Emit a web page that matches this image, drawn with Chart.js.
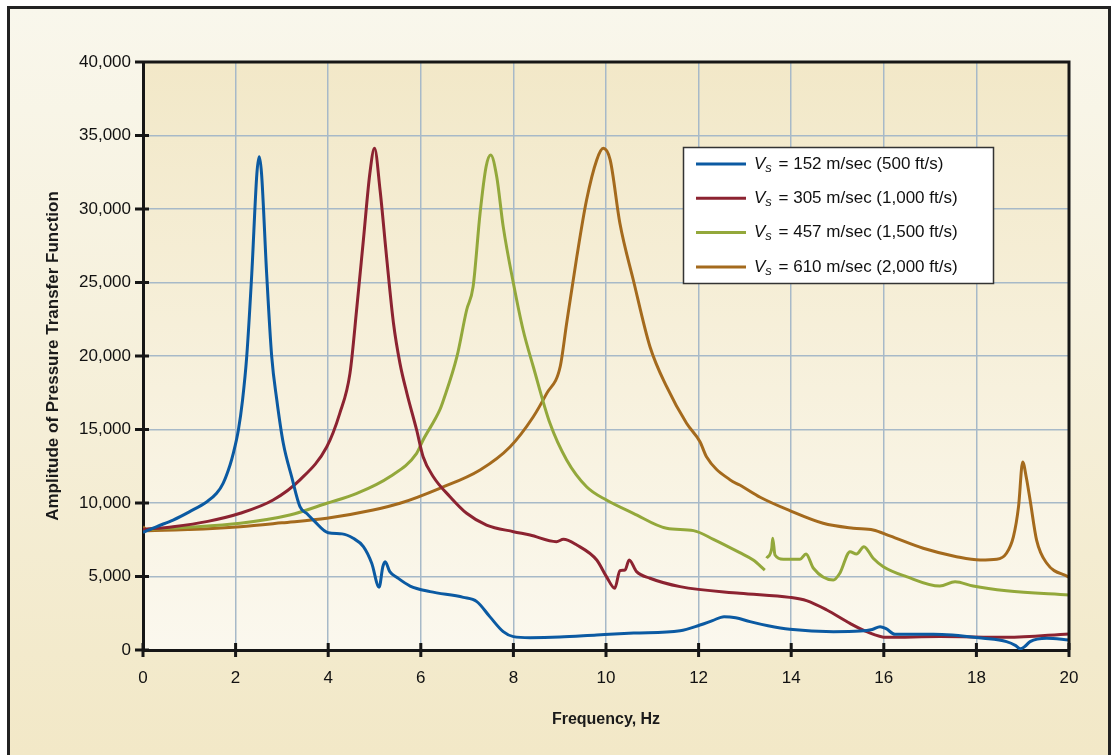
<!DOCTYPE html>
<html lang="en">
<head>
<meta charset="UTF-8">
<title>Amplitude of Pressure Transfer Function</title>
<script src="https://cdn.jsdelivr.net/npm/chart.js"></script>
<style>
    html, body { margin: 0; padding: 0; background: #ffffff; }
    #wrap { width: 1113px; height: 755px; }
</style>
</head>
<body>
<div id="wrap"><canvas id="ptfChart" width="1113" height="755"></canvas></div>
<script>
// Vs = 152 m/sec (500 ft/s)
const blueFreq = [0, 0.3, 0.65, 1.0, 1.38, 1.59, 1.73, 1.88, 1.95, 2.06, 2.15, 2.24, 2.35, 2.46, 2.51, 2.56, 2.67, 2.78, 2.89, 3.03, 3.21, 3.39, 3.55, 3.68, 4.0, 4.3, 4.54, 4.76, 4.94, 5.10, 5.18, 5.23, 5.33, 5.48, 5.77, 6.2, 6.92, 7.21, 7.49, 7.78, 8.0, 8.36, 9.0, 9.8, 10.6, 11.6, 12.03, 12.3, 12.55, 12.8, 13.11, 13.5, 13.97, 14.91, 15.49, 15.75, 15.92, 16.05, 16.24, 17.07, 18.15, 18.65, 18.85, 18.95, 19.05, 19.16, 19.52, 20];
const blueAmp = [8000, 8400, 8840, 9400, 10090, 10660, 11340, 12590, 13380, 14970, 17000, 19950, 25630, 32430, 33560, 32430, 25630, 19950, 17010, 14060, 11790, 9750, 9250, 8840, 7980, 7900, 7600, 7030, 5900, 4270, 5670, 6010, 5330, 4950, 4350, 3970, 3580, 3290, 2270, 1250, 910, 840, 880, 1020, 1150, 1310, 1700, 2000, 2270, 2200, 1930, 1650, 1410, 1250, 1290, 1400, 1590, 1450, 1070, 1070, 800, 570, 300, 80, 250, 570, 800, 680];

// Vs = 305 m/sec (1,000 ft/s)
const redFreq = [0, 0.65, 1.4, 2.1, 2.81, 3.39, 3.97, 4.25, 4.47, 4.62, 4.76, 4.9, 5.0, 5.12, 5.26, 5.41, 5.55, 5.7, 5.91, 6.05, 6.27, 6.63, 6.99, 7.42, 8.0, 8.36, 8.93, 9.08, 9.37, 9.8, 10.01, 10.19, 10.3, 10.41, 10.5, 10.66, 10.95, 11.6, 12.89, 13.97, 14.33, 14.77, 15.27, 15.63, 16.06, 17.21, 18.65, 20];
const redAmp = [8200, 8390, 8750, 9300, 10200, 11570, 13830, 16100, 18820, 23350, 27890, 32430, 34130, 31290, 26760, 22230, 19500, 17460, 14970, 13150, 11790, 10430, 9300, 8500, 8050, 7820, 7370, 7530, 7140, 6120, 4990, 4200, 5400, 5440, 6120, 5330, 4880, 4310, 3860, 3580, 3360, 2720, 1810, 1250, 860, 910, 860, 1090];

// Vs = 457 m/sec (1,500 ft/s)  (null = break in the trace)
const greenFreq = [0, 1.0, 2.1, 3.17, 3.97, 4.62, 5.33, 5.91, 6.05, 6.41, 6.49, 6.78, 6.99, 7.13, 7.28, 7.41, 7.51, 7.64, 7.78, 8.0, 8.21, 8.43, 8.79, 9.15, 9.58, 10.01, 10.59, 11.31, 11.89, 12.32, 12.89, 13.18, 13.43, 13.45, 13.47, 13.58, 13.6, 13.65, 13.83, 14.19, 14.32, 14.48, 14.91, 15.05, 15.27, 15.41, 15.57, 15.77, 15.99, 16.49, 17.21, 17.54, 17.93, 18.65, 20];
const greenAmp = [8200, 8350, 8620, 9180, 9980, 10660, 11790, 13380, 14290, 16330, 17010, 19950, 23130, 24720, 29710, 32880, 33680, 32200, 28800, 24950, 21770, 19270, 15420, 12930, 11110, 10200, 9300, 8280, 8120, 7530, 6620, 6120, 5440, null, 6240, 6920, 7600, 6460, 6170, 6170, 6530, 5560, 4760, 5220, 6690, 6530, 7030, 6240, 5670, 4990, 4350, 4650, 4350, 4030, 3740];

// Vs = 610 m/sec (2,000 ft/s)
const brownFreq = [0, 0.1, 1.0, 2.1, 3.0, 3.97, 4.97, 5.55, 6.41, 7.28, 7.93, 8.43, 8.72, 9.01, 9.15, 9.37, 9.58, 9.8, 9.94, 10.09, 10.3, 10.59, 10.95, 11.31, 11.74, 12.03, 12.17, 12.68, 12.89, 13.33, 13.97, 14.69, 15.34, 15.77, 16.13, 16.85, 17.57, 18.08, 18.44, 18.65, 18.8, 18.91, 19.0, 19.08, 19.16, 19.3, 19.52, 20];
const brownAmp = [8390, 8120, 8200, 8390, 8650, 8960, 9520, 9980, 11000, 12250, 13830, 15870, 17460, 19270, 22230, 26760, 30610, 33340, 34130, 33340, 29030, 25170, 20630, 17910, 15420, 14170, 13150, 11570, 11220, 10390, 9480, 8620, 8280, 8160, 7760, 6920, 6350, 6120, 6170, 6580, 7710, 9750, 12790, 11700, 10200, 7480, 5900, 4950];

const seriesLabels = ['Vs = 152 m/sec (500 ft/s)', 'Vs = 305 m/sec (1,000 ft/s)', 'Vs = 457 m/sec (1,500 ft/s)', 'Vs = 610 m/sec (2,000 ft/s)'];
const seriesColors = ['#0b5aa2', '#8c2331', '#93a83b', '#a46a1d'];
const yTickLabels = ['0', '5,000', '10,000', '15,000', '20,000', '25,000', '30,000', '35,000', '40,000'];

function toPoints(freq, amp) {
    return freq.map((f, i) => ({ x: f, y: amp[i] }));
}

const pairs = [[blueFreq, blueAmp], [redFreq, redAmp], [greenFreq, greenAmp], [brownFreq, brownAmp]];
const datasets = pairs.map((p, i) => ({
    label: seriesLabels[i],
    data: toPoints(p[0], p[1]),
    borderColor: seriesColors[i],
    backgroundColor: seriesColors[i],
    borderWidth: 3,
    pointRadius: 0,
    fill: false,
    spanGaps: false,
    cubicInterpolationMode: 'monotone'
}));

const FONT = '"Liberation Sans", Arial, sans-serif';

// frame + gradient backgrounds
const backdrop = {
    id: 'backdrop',
    beforeDraw(chart) {
        const ctx = chart.ctx, a = chart.chartArea;
        ctx.save();
        ctx.fillStyle = '#ffffff';
        ctx.fillRect(0, 0, chart.width, chart.height);
        let g = ctx.createLinearGradient(0, 8, 0, chart.height);
        g.addColorStop(0, '#f9f7ec');
        g.addColorStop(1, '#f2e8c7');
        ctx.fillStyle = g;
        ctx.fillRect(8.5, 7.5, 1101, chart.height);
        ctx.strokeStyle = '#222222';
        ctx.lineWidth = 3;
        ctx.strokeRect(8.5, 7.5, 1101, chart.height + 10);
        g = ctx.createLinearGradient(0, a.top, 0, a.bottom);
        g.addColorStop(0, '#f2e8c8');
        g.addColorStop(1, '#fbf8ee');
        ctx.fillStyle = g;
        ctx.fillRect(a.left, a.top, a.right - a.left, a.bottom - a.top);
        ctx.restore();
    }
};

// top/right border, crossing tick marks, legend box
const overlay = {
    id: 'overlay',
    afterDraw(chart) {
        const ctx = chart.ctx, a = chart.chartArea;
        const xs = chart.scales.x, ys = chart.scales.y;
        ctx.save();
        ctx.strokeStyle = '#161616';
        ctx.lineWidth = 3;
        ctx.beginPath();
        ctx.moveTo(a.left, a.top);
        ctx.lineTo(a.right, a.top);
        ctx.lineTo(a.right, a.bottom);
        ctx.stroke();

        ctx.beginPath();
        xs.ticks.forEach(t => {
            const px = xs.getPixelForValue(t.value);
            ctx.moveTo(px, a.bottom - 7);
            ctx.lineTo(px, a.bottom + 7);
        });
        ys.ticks.forEach(t => {
            const py = ys.getPixelForValue(t.value);
            ctx.moveTo(a.left - 8, py);
            ctx.lineTo(a.left + (t.value === 40000 ? 0 : 6), py);
        });
        ctx.stroke();

        // legend
        const bx = 683.5, by = 147.5, bw = 310, bh = 136;
        ctx.fillStyle = '#ffffff';
        ctx.fillRect(bx, by, bw, bh);
        ctx.strokeStyle = '#333333';
        ctx.lineWidth = 1.5;
        ctx.strokeRect(bx, by, bw, bh);
        chart.data.datasets.forEach((ds, i) => {
            const y = 164 + i * 34.3;
            ctx.strokeStyle = ds.borderColor;
            ctx.lineWidth = 3;
            ctx.beginPath();
            ctx.moveTo(696, y);
            ctx.lineTo(746, y);
            ctx.stroke();
            ctx.fillStyle = '#111111';
            ctx.textBaseline = 'middle';
            ctx.textAlign = 'left';
            let x = 754;
            ctx.font = 'italic 17px ' + FONT;
            ctx.fillText('V', x, y);
            x += ctx.measureText('V').width;
            ctx.font = 'italic 13px ' + FONT;
            ctx.fillText('s', x, y + 4);
            x += ctx.measureText('s').width + 2;
            ctx.font = '17px ' + FONT;
            ctx.fillText(ds.label.slice(2), x, y);
        });
        ctx.restore();
    }
};

new Chart(document.getElementById('ptfChart'), {
    type: 'line',
    data: { datasets: datasets },
    plugins: [backdrop, overlay],
    options: {
        responsive: false,
        animation: false,
        devicePixelRatio: 1,
        layout: { padding: { left: 0, top: 62, right: 44, bottom: 0 } },
        plugins: { legend: { display: false }, tooltip: { enabled: false } },
        scales: {
            x: {
                type: 'linear',
                min: 0,
                max: 20,
                afterFit: s => { s.height = 105; },
                ticks: { stepSize: 2, padding: 18, color: '#111111', font: { family: FONT, size: 17 } },
                grid: { color: '#a7b9c8', lineWidth: 1.5, drawTicks: false },
                border: { color: '#161616', width: 3 },
                title: { display: true, text: 'Frequency, Hz', color: '#1a1a1a', font: { family: FONT, size: 16, weight: 'bold' }, padding: { top: 0, bottom: 26 } }
            },
            y: {
                min: 0,
                max: 40000,
                afterFit: s => { s.width = 143; },
                ticks: {
                    stepSize: 5000,
                    padding: 12,
                    color: '#111111',
                    font: { family: FONT, size: 17 },
                    callback: (v) => yTickLabels[Math.round(v / 5000)]
                },
                grid: { color: '#a7b9c8', lineWidth: 1.5, drawTicks: false },
                border: { color: '#161616', width: 3 },
                title: { display: true, text: 'Amplitude of Pressure Transfer Function', color: '#1a1a1a', font: { family: FONT, size: 17, weight: 'bold' }, padding: { top: 43, bottom: 0 } }
            }
        }
    }
});
</script>
</body>
</html>
